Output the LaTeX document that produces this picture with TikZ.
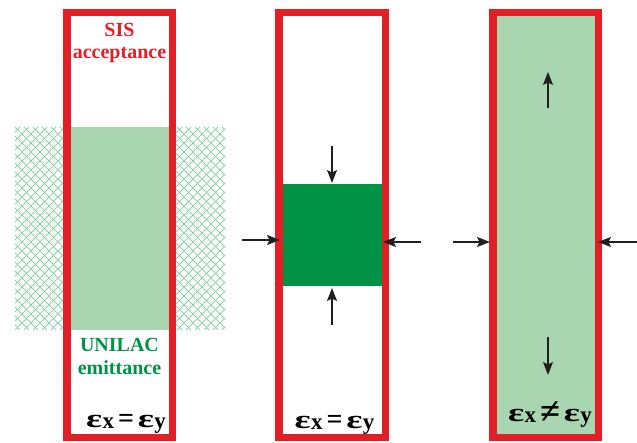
\documentclass[tikz,border=0pt]{standalone}
\usepackage{fontspec}
\setmainfont{Liberation Serif}
\usetikzlibrary{arrows.meta}
\definecolor{sisred}{HTML}{E31E24}
\definecolor{lgreen}{HTML}{A9D6B1}
\definecolor{dgreen}{HTML}{009245}
\definecolor{hatchg}{HTML}{8ED2A6}
\definecolor{arrowc}{HTML}{231F20}
\newcommand{\epsx}[1]{\mbox{\scalebox{1.45}[1]{\fontsize{26}{26}\selectfont ε}\kern0.3pt\raisebox{-1.5pt}{\fontsize{23}{23}\selectfont #1}}}
\newcommand{\eqlbl}[1]{\epsx{x}\hspace{4pt}{\fontsize{28}{28}\selectfont #1}\hspace{4pt}\epsx{y}}
\begin{document}
\begin{tikzpicture}[x=1pt,y=-1pt,
  frame/.style={draw=sisred,line width=7.5pt},
  push/.style={draw=arrowc,line width=1.4pt,-{Stealth[length=13pt,width=10pt,inset=2.5pt]}},
  lbl/.style={font=\fontsize{20}{22}\selectfont\bfseries,anchor=base,inner sep=0pt},
  hatchline/.style={draw=hatchg,line width=0.8pt},
]
\useasboundingbox (0,0) rectangle (637,443);
% hatched UNILAC emittance region
\begin{scope}
  \clip (15,127) rectangle (225,330);
  \foreach \i in {-210,-201,...,230} {
    \draw[hatchline] (\i,127) -- ++(203,203);
    \draw[hatchline] (\i,330) -- ++(203,-203);
  }
\end{scope}
% left panel
\fill[lgreen] (68,127) rectangle (171,330);
\draw[frame] (66.75,12.75) rectangle (172.25,437.25);
\node[lbl,text=sisred] (sis) at (119.5,37) {SIS};
\node[lbl,text=sisred] (acc) at (119.5,59) {acceptance};
\node[lbl,text=dgreen] (uni) at (119.5,352) {UNILAC};
\node[lbl,text=dgreen] (emi) at (119.5,374) {emittance};
\node[lbl] (eqa) at (126,427) {\eqlbl{=}};
% middle panel
\fill[dgreen] (281,184) rectangle (383,286);
\draw[frame] (278.75,12.75) rectangle (385.25,437.25);
\node[lbl] (eqb) at (334.5,428) {\eqlbl{=}};
\coordinate (mt0) at (332,146); \coordinate (mt1) at (332,183);
\coordinate (mb0) at (332,325); \coordinate (mb1) at (332,288);
\coordinate (ml0) at (242,240); \coordinate (ml1) at (280,240);
\coordinate (mr0) at (421,242); \coordinate (mr1) at (383,242);
\draw[push] (mt0) -- (mt1);
\draw[push] (mb0) -- (mb1);
\draw[push] (ml0) -- (ml1);
\draw[push] (mr0) -- (mr1);
% right panel
\fill[lgreen] (492,12) rectangle (599,438);
\draw[frame] (492.75,12.75) rectangle (598.25,437.25);
\node[lbl] (eqc) at (550,421) {\eqlbl{\raisebox{-2pt}{\scalebox{1.3}{≠}}}};
\coordinate (rt0) at (548,108); \coordinate (rt1) at (548,72);
\coordinate (rb0) at (548,337); \coordinate (rb1) at (548,375);
\coordinate (rl0) at (453,242); \coordinate (rl1) at (490,242);
\coordinate (rr0) at (637,242); \coordinate (rr1) at (598,242);
\draw[push] (rt0) -- (rt1);
\draw[push] (rb0) -- (rb1);
\draw[push] (rl0) -- (rl1);
\draw[push] (rr0) -- (rr1);
\end{tikzpicture}
\end{document}
